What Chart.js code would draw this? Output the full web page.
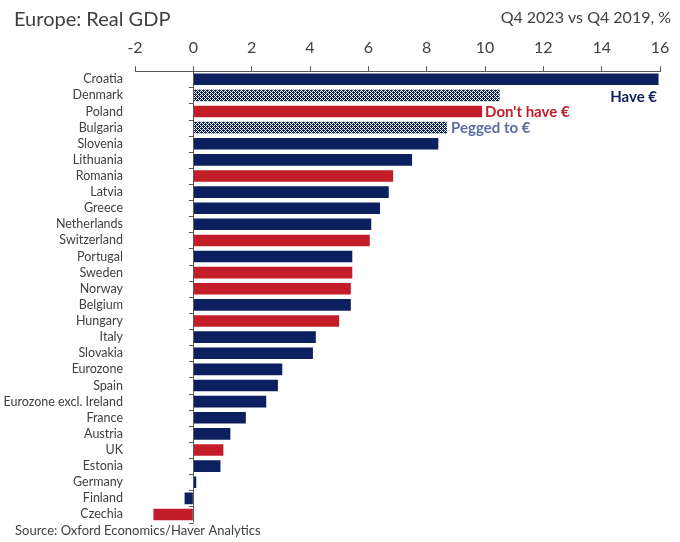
<!DOCTYPE html>
<html>
<head>
<meta charset="utf-8">
<script src="https://cdn.jsdelivr.net/npm/chart.js@4"></script>
<style>
  html, body { margin: 0; padding: 0; background: #fff; }
  #wrap { width: 680px; height: 542px; }
</style>
</head>
<body>
<div id="wrap"><canvas id="myChart" width="680" height="542"></canvas></div>
<script>
// data
const countries = ['Croatia', 'Denmark', 'Poland', 'Bulgaria', 'Slovenia', 'Lithuania', 'Romania', 'Latvia',
    'Greece', 'Netherlands', 'Switzerland', 'Portugal', 'Sweden', 'Norway', 'Belgium', 'Hungary', 'Italy',
    'Slovakia', 'Eurozone', 'Spain', 'Eurozone excl. Ireland', 'France', 'Austria', 'UK', 'Estonia',
    'Germany', 'Finland', 'Czechia'];
const gdpChange = [15.95, 10.5, 9.9, 8.7, 8.4, 7.5, 6.85, 6.7, 6.4, 6.1, 6.05, 5.45, 5.45, 5.4, 5.4, 5.0,
    4.2, 4.1, 3.05, 2.9, 2.5, 1.8, 1.27, 1.03, 0.93, 0.1, -0.3, -1.37];
// 'have' = have euro, 'no' = don't have euro, 'peg' = pegged to euro
const euroStatus = ['have', 'peg', 'no', 'peg', 'have', 'have', 'no', 'have', 'have', 'have', 'no', 'have',
    'no', 'no', 'have', 'no', 'have', 'have', 'have', 'have', 'have', 'have', 'have', 'no', 'have',
    'have', 'have', 'no'];
const xTicks = [-2, 0, 2, 4, 6, 8, 10, 12, 14, 16];

const NAVY = '#0c1f5e';
const RED = '#c21d29';
const PEG_TEXT = '#5a6e9f';
const GREY = '#404040';
const FONT = "Lato, 'Open Sans', sans-serif";

// dotted fill for the pegged bars
function makePattern() {
    const c = document.createElement('canvas');
    c.width = 4; c.height = 4;
    const g = c.getContext('2d');
    g.fillStyle = '#ffffff';
    g.fillRect(0, 0, 4, 4);
    g.fillStyle = NAVY;
    for (let y = 0; y < 4; y++) {
        for (let x = 0; x < 4; x++) {
            if ((x + y) % 2 === 0) g.fillRect(x, y, 1, 1);
        }
    }
    g.fillRect(0, 0, 2, 1);
    g.fillRect(2, 2, 2, 1);
    return g.createPattern(c, 'repeat');
}
const pegPattern = makePattern();

const barColors = euroStatus.map(s => s === 'have' ? NAVY : s === 'no' ? RED : pegPattern);

// titles, zero line and group labels
const extras = {
    id: 'extras',
    afterDraw(chart) {
        const ctx = chart.ctx;
        const x = chart.scales.x;
        const y = chart.scales.y;
        ctx.save();

        // zero line with category boundary ticks
        const x0 = x.getPixelForValue(0);
        ctx.strokeStyle = '#595959';
        ctx.lineWidth = 1;
        ctx.beginPath();
        ctx.moveTo(Math.round(x0) + 0.5, x.bottom);
        ctx.lineTo(Math.round(x0) + 0.5, y.bottom);
        const step = (y.bottom - y.top) / countries.length;
        for (let i = 1; i <= countries.length; i++) {
            const yy = Math.round(y.top + i * step) + 0.5;
            ctx.moveTo(Math.round(x0) + 0.5, yy);
            ctx.lineTo(Math.round(x0) - 4, yy);
        }
        ctx.stroke();

        // titles
        ctx.fillStyle = GREY;
        ctx.textBaseline = 'middle';
        ctx.font = "20px " + FONT;
        ctx.textAlign = 'left';
        ctx.fillText('Europe: Real GDP', 14, 20);
        ctx.font = "16px " + FONT;
        ctx.textAlign = 'right';
        ctx.fillText('Q4 2023 vs Q4 2019, %', 671, 18);

        // source
        ctx.font = "13px " + FONT;
        ctx.textAlign = 'left';
        ctx.fillStyle = GREY;
        ctx.fillText('Source: Oxford Economics/Haver Analytics', 15, 531);

        // group labels
        ctx.font = "bold 15px " + FONT;
        const iDen = countries.indexOf('Denmark');
        const iPol = countries.indexOf('Poland');
        const iBul = countries.indexOf('Bulgaria');
        ctx.textAlign = 'right';
        ctx.fillStyle = NAVY;
        ctx.fillText('Have €', x.right - 3, y.getPixelForValue(iDen) + 2);
        ctx.textAlign = 'left';
        ctx.fillStyle = RED;
        ctx.fillText("Don't have €", x.getPixelForValue(gdpChange[iPol]) + 3, y.getPixelForValue(iPol) + 1);
        ctx.fillStyle = PEG_TEXT;
        ctx.fillText('Pegged to €', x.getPixelForValue(gdpChange[iBul]) + 4, y.getPixelForValue(iBul) + 1);
        ctx.restore();
    }
};

const config = {
    type: 'bar',
    data: {
        labels: countries,
        datasets: [{
            data: gdpChange,
            backgroundColor: barColors,
            borderWidth: 0,
            barPercentage: 0.72,
            categoryPercentage: 1
        }]
    },
    options: {
        indexAxis: 'y',
        responsive: false,
        animation: false,
        layout: { padding: { top: 29, right: 20, bottom: 10, left: 0 } },
        plugins: {
            legend: { display: false },
            tooltip: { enabled: false }
        },
        scales: {
            x: {
                position: 'top',
                min: -2,
                max: 16,
                afterBuildTicks: scale => { scale.ticks = xTicks.map(v => ({ value: v })); },
                ticks: {
                    color: GREY,
                    font: { family: FONT, size: 16 },
                    padding: 9,
                    maxRotation: 0
                },
                grid: {
                    drawOnChartArea: false,
                    tickLength: 5,
                    color: '#595959'
                },
                border: { color: '#595959' }
            },
            y: {
                afterFit: scale => { scale.width = 135; },
                ticks: {
                    color: GREY,
                    font: { family: FONT, size: 12.5 },
                    padding: 12,
                    autoSkip: false
                },
                grid: { display: false, drawTicks: false },
                border: { display: false }
            }
        }
    },
    plugins: [extras]
};

const myChart = new Chart(document.getElementById('myChart'), config);
</script>
</body>
</html>
